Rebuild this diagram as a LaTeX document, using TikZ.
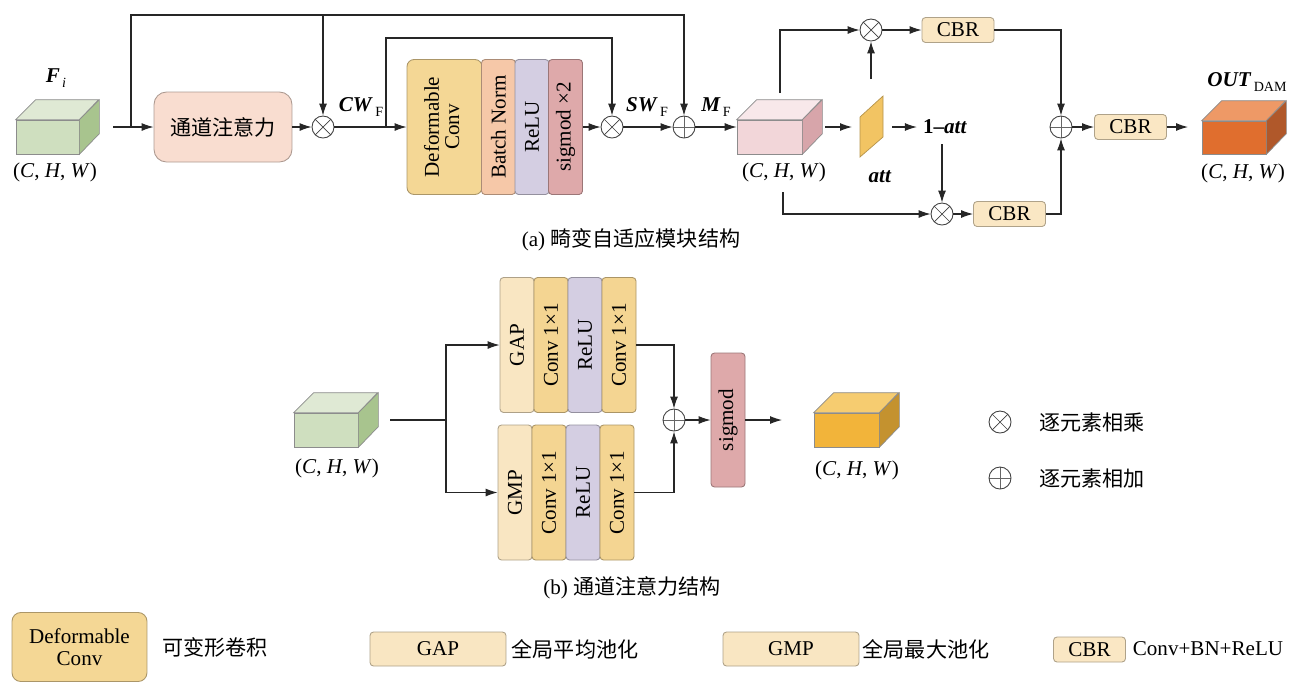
\documentclass[tikz,border=0pt]{standalone}
\usepackage{graphicx}
\usepackage{fontspec}
\setmainfont{Liberation Serif}
\newfontfamily\cjk{Noto Sans CJK SC}
\usetikzlibrary{arrows.meta}

\definecolor{greenF}{HTML}{CFDFBF}
\definecolor{greenT}{HTML}{DFE9D4}
\definecolor{greenS}{HTML}{A8C48E}
\definecolor{pinkF}{HTML}{F2D6D9}
\definecolor{pinkT}{HTML}{F8E8EA}
\definecolor{pinkS}{HTML}{D7A5AA}
\definecolor{orF}{HTML}{E06E2E}
\definecolor{orT}{HTML}{EE9966}
\definecolor{orS}{HTML}{B0582A}
\definecolor{yelF}{HTML}{F2B43A}
\definecolor{yelT}{HTML}{F6CC70}
\definecolor{yelS}{HTML}{C4922F}
\definecolor{attnc}{HTML}{F9DDD0}
\definecolor{dconvc}{HTML}{F4D795}
\definecolor{bnc}{HTML}{F6C8A8}
\definecolor{reluc}{HTML}{D4CEE2}
\definecolor{sigc}{HTML}{DEA9AA}
\definecolor{gapc}{HTML}{F9E6C2}
\definecolor{convc}{HTML}{F4D592}
\definecolor{cbrc}{HTML}{FAE7C4}
\definecolor{attc}{HTML}{F2C463}

\tikzset{
  conn/.style={draw=black!85, line width=0.6pt},
  arr/.style={conn, -{Latex[length=2.4mm,width=1.6mm]}},
  blk/.style={fill=#1, draw=#1!70!black, line width=0.5pt, rounded corners=2pt, inner sep=0pt},
  stk/.style={minimum width=0.68cm, minimum height=2.7cm},
  cbr/.style={blk=cbrc, minimum width=1.44cm, minimum height=0.5cm},
  cubeedge/.style={draw=black!45, line width=0.4pt},
  mulop/.style={circle, draw=black!75, line width=0.5pt, fill=white, minimum size=0.44cm, inner sep=0pt,
    path picture={\draw[black!75, line width=0.4pt] (path picture bounding box.north west) -- (path picture bounding box.south east)
      (path picture bounding box.south west) -- (path picture bounding box.north east);}},
  addop/.style={circle, draw=black!75, line width=0.5pt, fill=white, minimum size=0.44cm, inner sep=0pt,
    path picture={\draw[black!60, line width=0.4pt] (path picture bounding box.north) -- (path picture bounding box.south)
      (path picture bounding box.west) -- (path picture bounding box.east);}},
}

\newcommand{\chw}{(\textit{C}, \textit{H}, \textit{W})}
\newcommand{\lowsub}[1]{\raisebox{-0.6ex}{\fontsize{8}{8}\selectfont\,#1}}
\newcommand{\featcube}[8]{%
  \node[cubeedge, fill=#6, minimum width={#4*0.02cm}, minimum height={#5*0.02cm}, inner sep=0pt] (#1) at (#2,#3) {};
  \filldraw[cubeedge, fill=#7] (#1.north west) -- ++(20,-20) -- ++(#4,0) -- (#1.north east) -- cycle;
  \filldraw[cubeedge, fill=#8] (#1.north east) -- ++(20,-20) -- ++(0,#5) -- (#1.south east) -- cycle;
}

\begin{document}
\begin{tikzpicture}[x=0.02cm, y=-0.02cm, font=\fontsize{12}{14}\selectfont]
\useasboundingbox (0,0) rectangle (1294,681);
% (a) input and channel attention
\featcube{fi}{47.5}{137}{63}{34}{greenF}{greenT}{greenS}
\node at (56,78) {\textbf{\textit{F}}\lowsub{\textit{i}}};
\node at (55,172) {\chw};
\coordinate (fiout) at (113,127);
\coordinate (split1) at (131,127);
\coordinate (rail1) at (0,15);
\coordinate (rail2) at (0,38);
\node[blk=attnc, minimum width=2.76cm, minimum height=1.4cm, rounded corners=0.25cm] (attn) at (223,127) {\cjk 通道注意力};
\node[mulop] (ot1) at (323,127) {};
\node at (361,107) {\textbf{\textit{CW}}\lowsub{F}};
\coordinate (split2) at (386,127);
% deformable block
\node[blk=dconvc, minimum width=1.5cm, minimum height=2.7cm, rounded corners=4pt] (dconv) at (444.5,127)
  {\rotatebox{90}{\fontsize{12}{11.5}\selectfont\begin{tabular}{@{}c@{}}Deformable\\Conv\end{tabular}}};
\node[blk=bnc, stk] (bn) at (498.5,127) {\rotatebox{90}{Batch Norm}};
\node[blk=reluc, stk] (relu1) at (532,127) {\rotatebox{90}{ReLU}};
\node[blk=sigc, stk] (sig2) at (565.5,127) {\rotatebox{90}{sigmod ×2}};
\node[mulop] (ot2) at (612,127) {};
\node at (647,107) {\textbf{\textit{SW}}\lowsub{F}};
\node[addop] (op1) at (684,127) {};
\node at (716,107) {\textbf{\textit{M}}\lowsub{F}};
% fusion part
\featcube{pk}{769.5}{137}{65}{34}{pinkF}{pinkT}{pinkS}
\node at (784,172) {\chw};
\coordinate (pkout) at (825,127);
\coordinate (attin) at (852,127);
\coordinate (attout) at (892,127);
\coordinate (attup) at (871,79);
\coordinate (pkup) at (780,93);
\coordinate (pkdown) at (783,192);
\coordinate (oneattdn) at (942,144);
\filldraw[fill=attc, draw=attc!75!black, line width=0.4pt] (860,157) -- (860,117) -- (883,96) -- (883,137) -- cycle;
\node at (880,177) {\textbf{\textit{att}}};
\node (oneatt) at (945,127) {\textbf{1–\textit{att}}};
\node[mulop] (ot3) at (871,30) {};
\node[cbr] (cbrT) at (958,30) {CBR};
\node[mulop] (ot4) at (942,214) {};
\node[cbr] (cbrB) at (1009.5,214) {CBR};
\node[addop] (op2) at (1061,127) {};
\node[cbr] (cbr3) at (1130.5,127) {CBR};
\coordinate (outin) at (1188,127);
\featcube{out}{1234}{137.5}{64}{33}{orF}{orT}{orS}
\node at (1247,82) {\textbf{\textit{OUT}}\lowsub{DAM}};
\node at (1243,173) {\chw};
\node at (631,240) {(a) {\cjk 畸变自适应模块结构}};
% (a) connectors
\draw[arr] (fiout) -- (attn.west);
\draw[arr] (split1) -- (split1 |- rail1) -| (op1.north);
\draw[arr] (ot1.north |- rail1) -- (ot1.north);
\draw[arr] (attn.east) -- (ot1.west);
\draw[arr] (ot1.east) -- (dconv.west);
\draw[arr] (split2) -- (split2 |- rail2) -| (ot2.north);
\draw[arr] (sig2.east) -- (ot2.west);
\draw[arr] (ot2.east) -- (op1.west);
\draw[arr] (op1.east) -- (op1 -| pk.west);
\draw[arr] (pkout) -- (attin);
\draw[arr] (attout) -- (oneatt.west);
\draw[arr] (attup) -- (ot3.south);
\draw[arr] (pkup) |- (ot3.west);
\draw[arr] (ot3.east) -- (cbrT.west);
\draw[arr] (cbrT.east) -| (op2.north);
\draw[arr] (oneattdn) -- (ot4.north);
\draw[arr] (pkdown) |- (ot4.west);
\draw[arr] (ot4.east) -- (cbrB.west);
\draw[arr] (cbrB.east) -| (op2.south);
\draw[arr] (op2.east) -- (cbr3.west);
\draw[arr] (cbr3.east) -- (outin);
% (b) channel attention
\featcube{gi}{326}{430}{64}{34}{greenF}{greenT}{greenS}
\node at (337,468) {\chw};
\coordinate (giout) at (390,420);
\coordinate (split3) at (446,420);
\node[blk=gapc, stk] (gap) at (517,345) {\rotatebox{90}{GAP}};
\node[blk=convc, stk] (convA1) at (551,345) {\rotatebox{90}{Conv 1×1}};
\node[blk=reluc, stk] (reluA) at (585,345) {\rotatebox{90}{ReLU}};
\node[blk=convc, stk] (convA2) at (619,345) {\rotatebox{90}{Conv 1×1}};
\node[blk=gapc, stk] (gmp) at (515,492.5) {\rotatebox{90}{GMP}};
\node[blk=convc, stk] (convB1) at (549,492.5) {\rotatebox{90}{Conv 1×1}};
\node[blk=reluc, stk] (reluB) at (583,492.5) {\rotatebox{90}{ReLU}};
\node[blk=convc, stk] (convB2) at (617,492.5) {\rotatebox{90}{Conv 1×1}};
\node[addop] (op3) at (674,420) {};
\node[blk=sigc, minimum width=0.68cm, minimum height=2.68cm] (sig1) at (728,420) {\rotatebox{90}{sigmod}};
\coordinate (sigout) at (782,420);
\featcube{go}{846.5}{430}{65}{34}{yelF}{yelT}{yelS}
\node at (857,470) {\chw};
\draw[conn] (giout) -- (split3);
\draw[arr] (split3) |- (gap.west);
\draw[arr] (split3) |- (gmp.west);
\draw[arr] (convA2.east) -| (op3.north);
\draw[arr] (convB2.east |- gmp) -| (op3.south);
\draw[arr] (op3.east) -- (sig1.west);
\draw[arr] (sig1.east) -- (sigout);
\node[mulop] (lgmul) at (1000,422) {};
\node[anchor=west] (lgmultx) at (1033,422) {\cjk 逐元素相乘};
\node[addop] (lgadd) at (1000,478) {};
\node[anchor=west] (lgaddtx) at (1033,478) {\cjk 逐元素相加};
\node at (632,588) {(b) {\cjk 通道注意力结构}};
% legend
\node[blk=dconvc, minimum width=2.7cm, minimum height=1.38cm, rounded corners=5pt, align=center, font=\fontsize{12}{12.5}\selectfont] (lgdc) at (79.5,647) {Deformable\\Conv};
\node (lgdctx) at (215,647) {\cjk 可变形卷积};
\node[blk=gapc, minimum width=2.72cm, minimum height=0.68cm] (lggap) at (438,649) {GAP};
\node (lggaptx) at (575,649) {\cjk 全局平均池化};
\node[blk=gapc, minimum width=2.72cm, minimum height=0.68cm] (lggmp) at (791,649) {GMP};
\node (lggmptx) at (926,649) {\cjk 全局最大池化};
\node[cbr] (lgcbr) at (1089.5,649.5) {CBR};
\node (lgcbrtx) at (1208,649) {Conv+BN+ReLU};
\end{tikzpicture}
\end{document}
